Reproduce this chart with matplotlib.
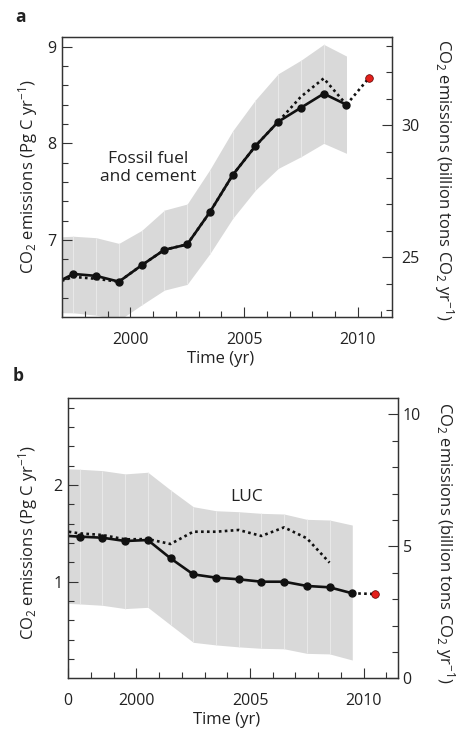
import numpy as np
import matplotlib
matplotlib.use("Agg")
import matplotlib.pyplot as plt

plt.rcParams['font.family'] = ['Open Sans', 'DejaVu Sans']
plt.rcParams['mathtext.fontset'] = 'custom'
plt.rcParams['mathtext.rm'] = 'Open Sans'
plt.rcParams['mathtext.it'] = 'Open Sans:italic'
plt.rcParams['mathtext.bf'] = 'Open Sans:bold'

# ---------------- data ----------------
years = np.arange(1996, 2010)          # annual values, plotted at mid-year

fossil_solid = [6.53, 6.65, 6.63, 6.57, 6.74, 6.90, 6.955, 7.29, 7.673, 7.973,
                8.224, 8.369, 8.514, 8.40]
fossil_dotted = [6.54, 6.62, 6.60, 6.57, 6.74, 6.90, 6.955, 7.29, 7.673, 7.973,
                 8.224, 8.483, 8.672, 8.40]
fossil_upper = [7.03, 7.04, 7.025, 6.966, 7.10, 7.31, 7.373, 7.73, 8.13, 8.45,
                8.72, 8.86, 9.024, 8.903]
fossil_lower = [6.25, 6.248, 6.224, 6.17, 6.33, 6.483, 6.542, 6.86, 7.224, 7.517,
                7.741, 7.862, 8.00, 7.897]
fossil_2010 = 8.68

luc_solid = [1.479, 1.465, 1.454, 1.420, 1.430, 1.241, 1.075, 1.041, 1.024, 0.999,
             0.999, 0.955, 0.941, 0.879]
luc_dotted = [1.533, 1.499, 1.482, 1.437, 1.44, 1.389, 1.516, 1.516, 1.534, 1.472,
              1.561, 1.448, 1.196]
luc_upper = [2.17, 2.162, 2.148, 2.114, 2.131, 1.948, 1.775, 1.733, 1.723, 1.706,
             1.699, 1.644, 1.637, 1.585]
luc_lower = [0.78, 0.769, 0.755, 0.721, 0.734, 0.552, 0.372, 0.345, 0.325, 0.310,
             0.305, 0.258, 0.252, 0.189]
luc_2010 = 0.872

PGC_TO_GTCO2 = 3.664

# ---------------- figure ----------------
W, H = 457, 732
fig = plt.figure(figsize=(W / 100, H / 100), dpi=100)

def px_axes(l, t, r, b):
    return fig.add_axes([l / W, 1 - b / H, (r - l) / W, (b - t) / H])

axA = px_axes(62, 37, 392, 317)
axB = px_axes(68.3, 397.7, 397.7, 678.3)

band_c = '#d9d9d9'
spine_c = '#333333'
TICK_FS = 11.5
line_kw = dict(color='#111111', lw=1.9, marker='o', ms=5.0, solid_capstyle='round',
               zorder=4)
dot_kw = dict(color='#111111', lw=1.9, linestyle=(0, (1.0, 1.25)), zorder=3)
red_kw = dict(marker='o', ms=5.5, mfc='#e3201b', mec='#5a0000', mew=0.5,
              linestyle='none', zorder=6)


def panel(ax, solid, dotted, upper, lower, last, ylim, ymajor, yminor,
          rmajor, rminor, rpad, xlabels):
    x = years + 0.5
    ax.fill_between(x, lower, upper, color=band_c, lw=0, zorder=1)
    ax.vlines(x[1:-1], np.array(lower)[1:-1], np.array(upper)[1:-1],
              color='#ececec', lw=0.6, zorder=2)
    xd = x[:len(dotted)]
    ax.plot(xd, dotted, **dot_kw)
    ax.plot([x[-1], x[-1] + 1], [solid[-1], last], **dot_kw)
    ax.plot(x, solid, **line_kw)
    ax.plot([x[-1] + 1], [last], **red_kw)

    ax.set_xlim(1997, 2011.5)
    ax.set_ylim(*ylim)
    ax.set_yticks(ymajor)
    ax.set_yticks(yminor, minor=True)
    ax.set_yticklabels([('%g' % v) for v in ymajor])
    ax.set_xticks(list(xlabels.keys()))
    ax.set_xticklabels(list(xlabels.values()))
    ax.set_xticks(np.arange(1997, 2012), minor=True)
    ax.tick_params(which='both', direction='in', color=spine_c, width=0.8,
                   top=False, right=False, labelsize=TICK_FS, labelcolor='#222222')
    ax.tick_params(which='major', length=7.5)
    ax.tick_params(which='minor', length=4.2)
    ax.tick_params(axis='x', pad=10.5)
    ax.tick_params(axis='y', pad=4)
    for s in ax.spines.values():
        s.set_color(spine_c)
        s.set_linewidth(0.9)

    ax2 = ax.twinx()
    ax2.set_ylim(ylim[0] * PGC_TO_GTCO2, ylim[1] * PGC_TO_GTCO2)
    ax2.set_yticks(rmajor)
    ax2.set_yticks(rminor, minor=True)
    ax2.tick_params(which='both', direction='in', color=spine_c, width=0.8,
                    labelsize=TICK_FS, labelcolor='#222222', pad=rpad)
    ax2.tick_params(which='major', length=7.5)
    ax2.tick_params(which='minor', length=4.2)
    for s in ax2.spines.values():
        s.set_color(spine_c)
        s.set_linewidth(0.9)
    return ax2


panel(axA, fossil_solid, fossil_dotted, fossil_upper, fossil_lower, fossil_2010,
      (6.205, 9.10), [7, 8, 9], np.arange(6.4, 9.01, 0.2),
      [25, 30], np.arange(23, 34), 7.0,
      {2000: '2000', 2005: '2005', 2010: '2010'})
panel(axB, luc_solid, luc_dotted, luc_upper, luc_lower, luc_2010,
      (0, 2.902), [1, 2], np.arange(0.2, 2.81, 0.2),
      [0, 5, 10], np.arange(0, 11), 3.5,
      {1997: '0', 2000: '2000', 2005: '2005', 2010: '2010'})

axA.text(2000.8, 7.742, 'Fossil fuel\nand cement', ha='center', va='center',
         fontsize=12.5, color='#222222', linespacing=1.15)
axB.text(2004.84, 1.878, 'LUC', ha='center', va='center', fontsize=12.5,
         color='#222222')

lab_kw = dict(ha='center', va='center', fontsize=12, color='#222222')
left_lab = r'CO$_2$ emissions (Pg C yr$^{-1}$)'
right_lab = r'CO$_2$ emissions (billion tons CO$_2$ yr$^{-1}$)'
fig.text(28.5 / W, 1 - 177 / H, left_lab, rotation=90, **lab_kw)
fig.text(444 / W, 1 - 180 / H, right_lab, rotation=270, **lab_kw)
fig.text(28.5 / W, 1 - 542.5 / H, left_lab, rotation=90, **lab_kw)
fig.text(445 / W, 1 - 543 / H, right_lab, rotation=270, **lab_kw)
fig.text(221 / W, 1 - 359 / H, 'Time (yr)', **lab_kw)
fig.text(226.7 / W, 1 - 720 / H, 'Time (yr)', **lab_kw)
fig.text(20 / W, 1 - 17.5 / H, 'a', fontsize=12.5, fontweight='bold',
         ha='center', va='center', color='#222222')
fig.text(18.5 / W, 1 - 376 / H, 'b', fontsize=12.5, fontweight='bold',
         ha='center', va='center', color='#222222')

fig.savefig('out.png', dpi=100)
